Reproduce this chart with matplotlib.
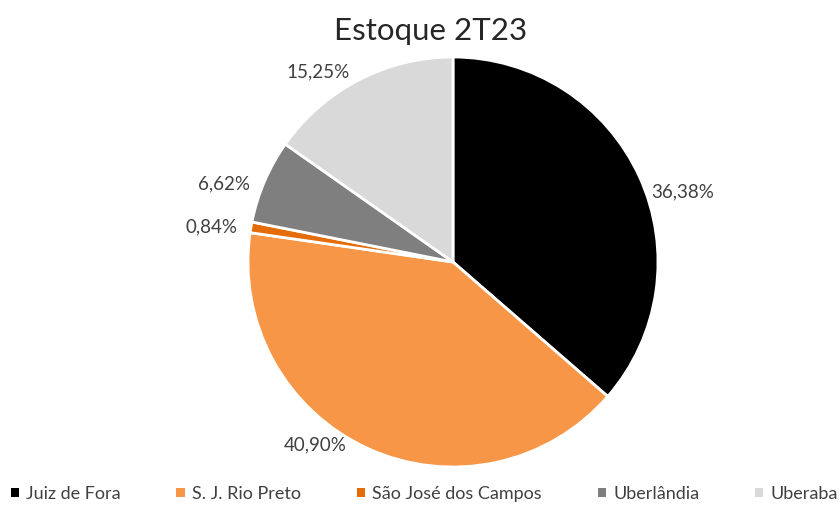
import matplotlib.pyplot as plt
from matplotlib.patches import Patch

plt.rcParams['font.family'] = ['Lato', 'DejaVu Sans']

labels = ['Juiz de Fora', 'S. J. Rio Preto', 'São José dos Campos', 'Uberlândia', 'Uberaba']
values = [36.38, 40.90, 0.84, 6.62, 15.25]
colors = ['#000000', '#F79646', '#E46C0A', '#7F7F7F', '#D9D9D9']

# where the percentage labels sit (pixel centres in the reference layout)
label_px = [(683, 192), (315, 445), (211, 227), (224, 184), (318, 72)]

CX, CY, R = 453, 262, 205  # pie centre and radius in pixels


def fmt(p):
    return f"{p:.2f}%".replace('.', ',')


fig = plt.figure(figsize=(8.4, 5.07), dpi=100)
ax = fig.add_axes([(CX - R) / 840, (507 - CY - R) / 507, 2 * R / 840, 2 * R / 507])

wedges, texts, autotexts = ax.pie(
    values, colors=colors, startangle=90, counterclock=False,
    autopct=fmt, pctdistance=1.16,
    wedgeprops=dict(edgecolor='white', linewidth=2),
    textprops=dict(fontsize=13.5, color='#404040'))
for t, (px, py) in zip(autotexts, label_px):
    t.set_position(((px - CX) / R, (CY - py) / R))
    t.set_ha('center')
    t.set_va('center')
ax.set_xlim(-1, 1)
ax.set_ylim(-1, 1)
ax.set_aspect('equal')

fig.text(431 / 840, 1 - 31 / 507, 'Estoque 2T23', ha='center', va='center',
         fontsize=22.5, color='#262626')

handles = [Patch(facecolor=c, edgecolor='none') for c in colors]
fig.legend(handles, labels, loc='center', bbox_to_anchor=(0.505, 1 - 494 / 507),
           ncol=5, frameon=False, fontsize=13, handlelength=0.45, handleheight=0.45,
           handletextpad=0.4, columnspacing=3.1, labelcolor='#404040')

fig.savefig('out.png', dpi=100)
